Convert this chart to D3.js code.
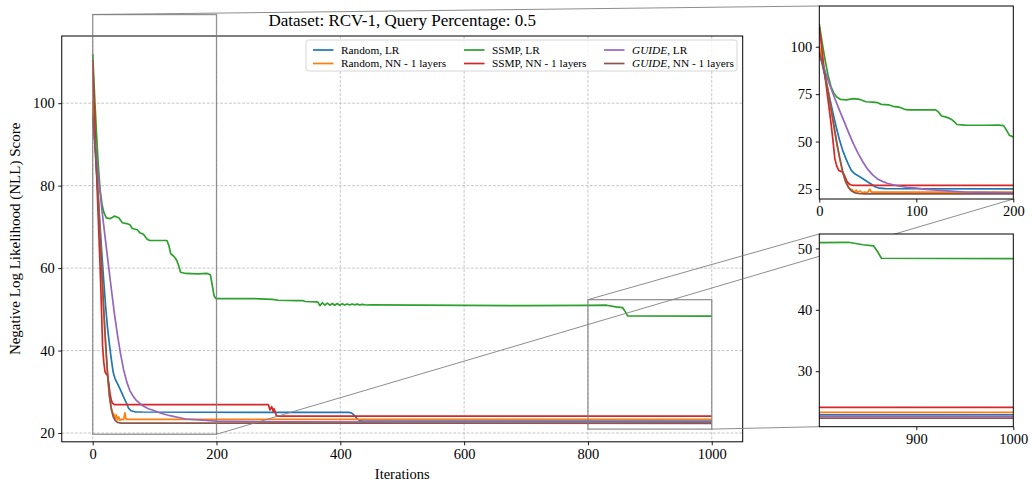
<!DOCTYPE html>
<html>
<head>
<meta charset="utf-8">
<script src="https://cdn.jsdelivr.net/npm/d3@7"></script>
<style>
  body { margin: 0; background: #fff; }
  svg text { font-family: "Liberation Serif", "DejaVu Serif", serif; fill: #000; }
</style>
</head>
<body>
<svg id="chart" width="1032" height="485"></svg>
<script>
// ---- data: [iteration, NLL score] ----
const randomLR = [[0,97.5],[3,91],[6,84],[9,77],[12,70],[15,63],[18,56.5],[21,50.5],[24,45.5],[27,41.5],[30,38],[33,34.8],[36,33.2],[40,32],[45,30.4],[50,28.7],[55,27.1],[58,26],[62,25.4],[68,25.15],[80,25.1],[300,25.0],[414,25.0],[419,24.8],[423,24.2],[427,23.5],[431,23.0],[436,22.9],[1000,22.9]];
const randomNN = [[0,100.5],[3,93],[6,85.5],[9,77],[12,67.5],[15,58],[18,49],[21,41],[24,34],[27,29],[30,26.2],[32,25],[34,24.6],[36,23.4],[38,24.4],[40,23.2],[42,23.9],[44,23.1],[47,23.35],[50,23.25],[52,24.9],[54,23.3],[1000,23.3]];
const ssmpLR = [[0,112],[3,102],[6,93],[9,85],[12,79],[15,75.5],[18,73.5],[22,72.2],[28,72.0],[35,72.6],[42,72.2],[48,71.0],[55,70.8],[60,70.5],[64,69.6],[72,69.3],[76,68.6],[82,68.2],[88,67.0],[92,66.7],[120,66.7],[123,65.5],[126,63.5],[130,63.0],[133,62.5],[136,61.8],[139,60.5],[142,59.0],[150,58.7],[170,58.6],[185,58.7],[190,58.4],[193,56],[196,53.3],[199,52.6],[260,52.6],[290,52.4],[300,52.2],[330,52.1],[340,52.1],[343,51.9],[362,51.8],[364,51.7],[367,50.9],[371,51.6],[375,51.0],[379,51.5],[383,51.0],[387,51.4],[391,51.0],[395,51.4],[399,51.0],[403,51.35],[407,51.05],[411,51.3],[415,51.05],[419,51.3],[423,51.1],[427,51.25],[431,51.1],[436,51.2],[441,51.05],[450,51.1],[600,50.95],[700,50.9],[800,50.95],[830,51.0],[845,50.6],[856,50.4],[860,49.5],[864,48.4],[1000,48.35]];
const ssmpNN = [[0,110.5],[3,97],[6,84],[9,72],[12,60],[14,51],[16,41],[18,37],[20,34.8],[22,34.3],[24,34],[26,32],[28,29.5],[30,28],[32,27.2],[35,26.9],[283.7,26.9],[286.4,25.6],[289,26.4],[291.7,25.2],[293,25.9],[297,24.1],[1000,24.1]];
const guideLR = [[0,95.9],[5,88.5],[10,81],[15,74],[20,67.5],[25,61.3],[30,55],[35,49],[40,43.8],[45,39.2],[50,35.3],[55,32.4],[60,30.3],[65,29],[70,28],[80,26.7],[90,25.9],[100,25.4],[110,24.8],[125,24.2],[150,23.4],[200,22.9],[300,22.7],[1000,22.65]];
const guideNN = [[0,97],[3,91.5],[6,84.5],[9,76.5],[12,67.5],[15,58.5],[18,49.5],[21,41.5],[24,34.5],[27,29],[30,25.8],[33,24],[36,23.1],[40,22.6],[46,22.4],[1000,22.35]];

const seriesLabels = [
  ["Random, LR"], ["Random, NN - 1 layers"],
  ["SSMP, LR"], ["SSMP, NN - 1 layers"],
  ["GUIDE", ", LR"], ["GUIDE", ", NN - 1 layers"]
];
const seriesData = [randomLR, randomNN, ssmpLR, ssmpNN, guideLR, guideNN];
const seriesColors = ["#1f77b4", "#ff7f0e", "#2ca02c", "#d62728", "#9467bd", "#8c564b"];

const mainXTicks = [0, 200, 400, 600, 800, 1000];
const mainYTicks = [20, 40, 60, 80, 100];
const zoom1XTicks = [0, 100, 200];
const zoom1YTicks = [25, 50, 75, 100];
const zoom2XTicks = [900, 1000];
const zoom2YTicks = [30, 40, 50];

const titleText = "Dataset: RCV-1, Query Percentage: 0.5";
const xLabelText = "Iterations";
const yLabelText = "Negative Log Likelihood (NLL) Score";

// ---- layout ----
const svg = d3.select("#chart");
const mainBox = { left: 61.75, right: 742.7, top: 36, bottom: 441.8, xd: [-50, 1050], yd: [17.87, 116.3] };
const zoom1Box = { left: 819.3, right: 1013.3, top: 6, bottom: 199, xd: [0, 200], yd: [19.7, 121.5] };
const zoom2Box = { left: 819.3, right: 1013.3, top: 234, bottom: 426.7, xd: [800, 1000], yd: [20.95, 52.35] };

function scalesFor(b) {
  return {
    x: d3.scaleLinear().domain(b.xd).range([b.left, b.right]),
    y: d3.scaleLinear().domain(b.yd).range([b.bottom, b.top])
  };
}

let clipCount = 0;
function drawAxes(b, xTicks, yTicks, opts) {
  const s = scalesFor(b);
  const g = svg.append("g");
  g.append("rect").attr("x", b.left).attr("y", b.top)
    .attr("width", b.right - b.left).attr("height", b.bottom - b.top).attr("fill", "#fff");

  if (opts.grid) {
    const grid = g.append("g").attr("stroke", "#b8b8b8").attr("stroke-width", 0.8)
      .attr("stroke-dasharray", "2.8,1.6");
    xTicks.forEach(t => grid.append("line").attr("x1", s.x(t)).attr("x2", s.x(t))
      .attr("y1", b.top).attr("y2", b.bottom));
    yTicks.forEach(t => grid.append("line").attr("y1", s.y(t)).attr("y2", s.y(t))
      .attr("x1", b.left).attr("x2", b.right));
  }

  const id = "clip" + (clipCount++);
  svg.append("clipPath").attr("id", id).append("rect")
    .attr("x", b.left).attr("y", b.top).attr("width", b.right - b.left).attr("height", b.bottom - b.top);

  const line = d3.line().x(d => s.x(d[0])).y(d => s.y(d[1]));
  const lines = g.append("g").attr("clip-path", `url(#${id})`);
  seriesData.forEach((data, i) => {
    lines.append("path").attr("d", line(data)).attr("fill", "none")
      .attr("stroke", seriesColors[i]).attr("stroke-width", 1.7)
      .attr("stroke-linejoin", "round").attr("stroke-linecap", "butt");
  });

  const xAxis = d3.axisBottom(s.x).tickValues(xTicks).tickSize(3.5).tickPadding(3.5).tickFormat(d3.format("d"));
  const yAxis = d3.axisLeft(s.y).tickValues(yTicks).tickSize(3.5).tickPadding(3.5).tickFormat(d3.format("d"));
  const gx = g.append("g").attr("transform", `translate(0,${b.bottom})`).call(xAxis);
  const gy = g.append("g").attr("transform", `translate(${b.left},0)`).call(yAxis);
  [gx, gy].forEach(a => {
    a.select(".domain").remove();
    a.selectAll(".tick line").attr("stroke", "#000").attr("stroke-width", 0.9);
    a.selectAll(".tick text").attr("font-size", opts.tickSize)
      .style("font-family", '"Liberation Serif", serif');
  });
  g.append("rect").attr("x", b.left).attr("y", b.top)
    .attr("width", b.right - b.left).attr("height", b.bottom - b.top)
    .attr("fill", "none").attr("stroke", "#000").attr("stroke-width", 1);
  return { g, s };
}

// ---- main plot ----
const mainAx = drawAxes(mainBox, mainXTicks, mainYTicks, { grid: true, tickSize: "14.5px" });
const ms = mainAx.s;

// legend
const legend = svg.append("g");
legend.append("rect").attr("x", 306).attr("y", 40).attr("width", 431).attr("height", 31)
  .attr("rx", 2.5).attr("fill", "#fff").attr("fill-opacity", 0.8)
  .attr("stroke", "#cccccc").attr("stroke-width", 0.8);
const colX = [313, 464, 604], rowY = [50, 63.5];
seriesLabels.forEach((lab, i) => {
  const cx = colX[Math.floor(i / 2)], cy = rowY[i % 2];
  legend.append("line").attr("x1", cx).attr("x2", cx + 20.5).attr("y1", cy).attr("y2", cy)
    .attr("stroke", seriesColors[i]).attr("stroke-width", 1.7);
  const t = legend.append("text").attr("x", cx + 28).attr("y", cy).attr("dy", "0.35em")
    .attr("font-size", "11.3px");
  if (lab.length === 2) {
    t.append("tspan").attr("font-style", "italic").text(lab[0]);
    t.append("tspan").text(lab[1]);
  } else {
    t.text(lab[0]);
  }
});

// zoom indicators and connectors (figure-level overlays)
const over = svg.append("g").attr("fill", "none").attr("stroke", "#808080");
function indicate(b) {
  const x0 = ms.x(b.xd[0]), x1 = ms.x(b.xd[1]);
  const y0 = ms.y(b.yd[1]), y1 = ms.y(b.yd[0]);
  over.append("rect").attr("x", x0).attr("y", y0).attr("width", x1 - x0).attr("height", y1 - y0)
    .attr("stroke-width", 1.3).attr("stroke-opacity", 0.85);
  return { x0, x1, y0, y1 };
}
const r1 = indicate(zoom1Box);
const r2 = indicate(zoom2Box);
function connect(ax, ay, bx, by) {
  over.append("line").attr("x1", ax).attr("y1", ay).attr("x2", bx).attr("y2", by).attr("stroke-width", 0.9);
}
connect(r1.x0, r1.y0, zoom1Box.left, zoom1Box.top);
connect(r1.x1, r1.y1, zoom1Box.right, zoom1Box.bottom);
connect(r2.x0, r2.y0, zoom2Box.left, zoom2Box.top);
connect(r2.x1, r2.y1, zoom2Box.left, zoom2Box.bottom);

// ---- zoomed views ----
drawAxes(zoom1Box, zoom1XTicks, zoom1YTicks, { grid: false, tickSize: "14.5px" });
drawAxes(zoom2Box, zoom2XTicks, zoom2YTicks, { grid: false, tickSize: "14.5px" });

// ---- titles ----
svg.append("text").attr("x", (mainBox.left + mainBox.right) / 2).attr("y", 26)
  .attr("text-anchor", "middle").attr("font-size", "17px").text(titleText);
svg.append("text").attr("x", (mainBox.left + mainBox.right) / 2).attr("y", 479)
  .attr("text-anchor", "middle").attr("font-size", "14.5px").text(xLabelText);
svg.append("text").attr("transform", `translate(20,${(mainBox.top + mainBox.bottom) / 2}) rotate(-90)`)
  .attr("text-anchor", "middle").attr("font-size", "15px").text(yLabelText);
</script>
</body>
</html>
